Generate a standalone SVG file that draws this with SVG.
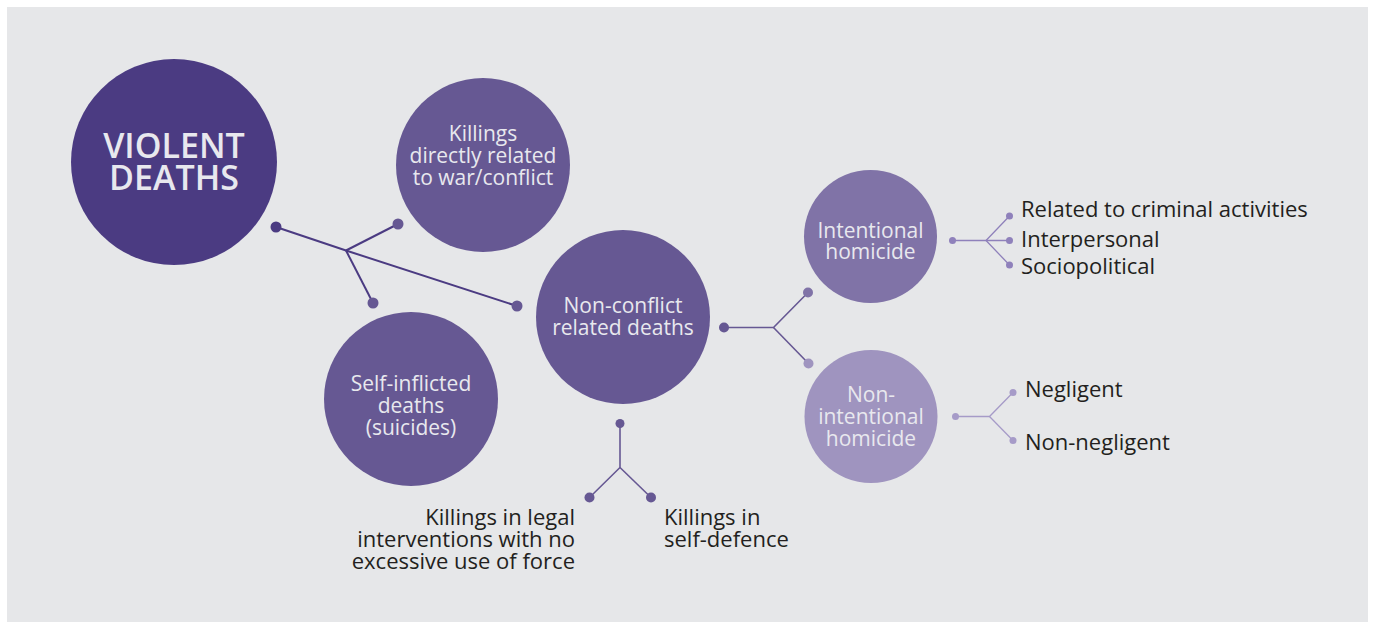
<svg xmlns="http://www.w3.org/2000/svg" width="1373" height="630" viewBox="0 0 1373 630">
<style>
.ct{font-family:"Open Sans","Noto Sans","Liberation Sans",sans-serif;font-size:21px;fill:#e8e8ee;text-anchor:middle}
.lt{font-family:"Open Sans","Noto Sans","Liberation Sans",sans-serif;font-size:22px;fill:#231f20}
.l1{stroke:#4b3b82;stroke-width:2;fill:none}
.l2{stroke:#665893;stroke-width:1.6;fill:none}
.l3{stroke:#8f81bb;stroke-width:1.3;fill:none}
.l4{stroke:#a69bc8;stroke-width:1.3;fill:none}
</style>
<rect x="0" y="0" width="1373" height="630" fill="#ffffff"/>
<rect x="7" y="7" width="1361" height="615" fill="#e6e7e9"/>
<g id="connectors">
<polyline class="l1" points="276,227 346,250.5 517,306"/>
<polyline class="l1" points="346,250.5 398,224"/>
<polyline class="l1" points="346,250.5 373,303"/>
<circle cx="276" cy="227" r="5.5" fill="#4b3b82"/>
<circle cx="398" cy="224" r="5.5" fill="#665893"/>
<circle cx="373" cy="303" r="5.5" fill="#665893"/>
<circle cx="517" cy="306" r="5.5" fill="#665893"/>
<polyline class="l2" points="724,327.5 773.5,327.5 808,292.5"/>
<polyline class="l2" points="773.5,327.5 808.5,363.5"/>
<circle cx="724" cy="327.5" r="5" fill="#665893"/>
<circle cx="808" cy="292.5" r="5" fill="#8073a7"/>
<circle cx="808.5" cy="363.5" r="5" fill="#9f94bf"/>
<polyline class="l2" points="620,423.5 620,467.5 589.5,497.5"/>
<polyline class="l2" points="620,467.5 651,497.5"/>
<circle cx="620" cy="423.5" r="4.5" fill="#665893"/>
<circle cx="589.5" cy="497.5" r="5" fill="#665893"/>
<circle cx="651" cy="497.5" r="5" fill="#665893"/>
<polyline class="l3" points="952.5,240.5 1009.5,240.5"/>
<polyline class="l3" points="1009.5,216 986,240.5 1009.5,265"/>
<circle cx="952.5" cy="240.5" r="3.5" fill="#8f81bb"/>
<circle cx="1009.5" cy="216" r="3.5" fill="#8f81bb"/>
<circle cx="1009.5" cy="240.5" r="3.5" fill="#8f81bb"/>
<circle cx="1009.5" cy="265" r="3.5" fill="#8f81bb"/>
<polyline class="l4" points="955.5,416.5 989.5,416.5 1013,392.5"/>
<polyline class="l4" points="989.5,416.5 1013,440.5"/>
<circle cx="955.5" cy="416.5" r="3.5" fill="#a69bc8"/>
<circle cx="1013" cy="392.5" r="3.5" fill="#a69bc8"/>
<circle cx="1013" cy="440.5" r="3.5" fill="#a69bc8"/>
</g>
<g id="violent-deaths">
<circle cx="174" cy="162" r="103" fill="#4b3b82"/>
<text class="ct" x="174" y="158" style="font-size:34px;font-weight:600">VIOLENT</text>
<text class="ct" x="174" y="190" style="font-size:34px;font-weight:600">DEATHS</text>
</g>
<g id="war-conflict">
<circle cx="483" cy="165" r="87" fill="#665893"/>
<text class="ct" x="483" y="141">Killings</text>
<text class="ct" x="483" y="163">directly related</text>
<text class="ct" x="483" y="185">to war/conflict</text>
</g>
<g id="non-conflict">
<circle cx="623" cy="317" r="87" fill="#665893"/>
<text class="ct" x="623" y="313">Non-conflict</text>
<text class="ct" x="623" y="335">related deaths</text>
</g>
<g id="self-inflicted">
<circle cx="411" cy="399" r="87" fill="#665893"/>
<text class="ct" x="411" y="391">Self-inflicted</text>
<text class="ct" x="411" y="413">deaths</text>
<text class="ct" x="411" y="435">(suicides)</text>
</g>
<g id="intentional">
<circle cx="870.5" cy="236.5" r="66.5" fill="#8073a7"/>
<text class="ct" x="870.5" y="238">Intentional</text>
<text class="ct" x="870.5" y="259">homicide</text>
</g>
<g id="non-intentional">
<circle cx="871" cy="416.5" r="66.5" fill="#9f94bf"/>
<text class="ct" x="871" y="402">Non-</text>
<text class="ct" x="871" y="424">intentional</text>
<text class="ct" x="871" y="446">homicide</text>
</g>
<g id="intentional-types">
<text class="lt" x="1021" y="217">Related to criminal activities</text>
<text class="lt" x="1021" y="247">Interpersonal</text>
<text class="lt" x="1021" y="274">Sociopolitical</text>
</g>
<g id="non-intentional-types">
<text class="lt" x="1025" y="397">Negligent</text>
<text class="lt" x="1025" y="450">Non-negligent</text>
</g>
<g id="legal-interventions">
<text class="lt" x="575" y="525" text-anchor="end">Killings in legal</text>
<text class="lt" x="575" y="547" text-anchor="end">interventions with no</text>
<text class="lt" x="575" y="569" text-anchor="end">excessive use of force</text>
</g>
<g id="self-defence">
<text class="lt" x="664" y="525">Killings in</text>
<text class="lt" x="664" y="547">self-defence</text>
</g>
</svg>
